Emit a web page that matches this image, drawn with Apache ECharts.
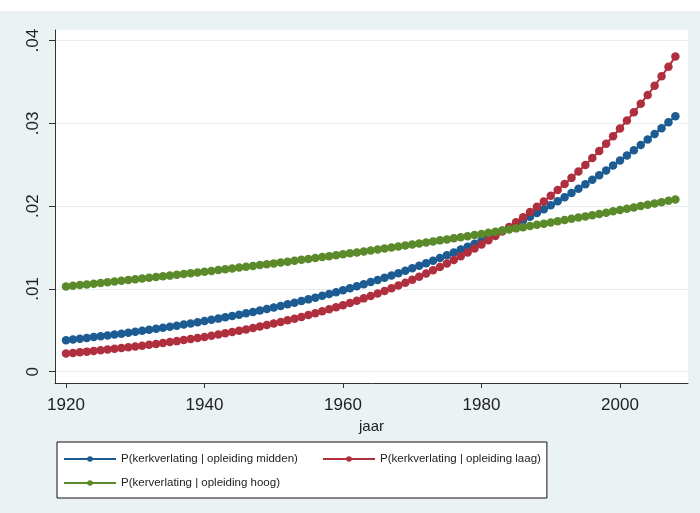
<!DOCTYPE html>
<html>
<head>
<meta charset="utf-8">
<script src="https://cdn.jsdelivr.net/npm/echarts@6/dist/echarts.min.js"></script>
<style>
  html, body { margin: 0; padding: 0; background: #ffffff; }
  #c { position: absolute; left: 0; top: 11px; width: 700px; height: 502px; background: #eaf2f3; }
</style>
</head>
<body>
<div id="c"></div>
<script>
const years = [1920,1921,1922,1923,1924,1925,1926,1927,1928,1929,1930,1931,1932,1933,1934,1935,1936,1937,1938,1939,1940,1941,1942,1943,1944,1945,1946,1947,1948,1949,1950,1951,1952,1953,1954,1955,1956,1957,1958,1959,1960,1961,1962,1963,1964,1965,1966,1967,1968,1969,1970,1971,1972,1973,1974,1975,1976,1977,1978,1979,1980,1981,1982,1983,1984,1985,1986,1987,1988,1989,1990,1991,1992,1993,1994,1995,1996,1997,1998,1999,2000,2001,2002,2003,2004,2005,2006,2007,2008];

const midden = [0.003800,0.003892,0.003985,0.004081,0.004180,0.004280,0.004383,0.004489,0.004597,0.004708,0.004821,0.004937,0.005056,0.005178,0.005302,0.005430,0.005561,0.005695,0.005832,0.005972,0.006116,0.006264,0.006414,0.006569,0.006727,0.006889,0.007055,0.007225,0.007399,0.007577,0.007760,0.007947,0.008138,0.008334,0.008535,0.008740,0.008951,0.009166,0.009387,0.009613,0.009845,0.010082,0.010325,0.010574,0.010828,0.011089,0.011356,0.011630,0.011910,0.012197,0.012491,0.012792,0.013100,0.013416,0.013739,0.014070,0.014409,0.014756,0.015111,0.015475,0.015848,0.016230,0.016621,0.017021,0.017431,0.017851,0.018281,0.018721,0.019172,0.019634,0.020107,0.020591,0.021087,0.021595,0.022115,0.022648,0.023194,0.023752,0.024324,0.024910,0.025510,0.026125,0.026754,0.027399,0.028059,0.028734,0.029427,0.030135,0.030861];

const laag = [0.002200,0.002272,0.002347,0.002425,0.002505,0.002587,0.002672,0.002760,0.002851,0.002945,0.003042,0.003142,0.003246,0.003353,0.003463,0.003577,0.003695,0.003817,0.003942,0.004072,0.004206,0.004345,0.004488,0.004636,0.004788,0.004946,0.005109,0.005277,0.005451,0.005630,0.005816,0.006007,0.006205,0.006409,0.006620,0.006838,0.007063,0.007296,0.007536,0.007784,0.008041,0.008305,0.008579,0.008861,0.009153,0.009455,0.009766,0.010088,0.010420,0.010763,0.011117,0.011483,0.011861,0.012252,0.012655,0.013072,0.013503,0.013947,0.014407,0.014881,0.015371,0.015877,0.016400,0.016940,0.017498,0.018075,0.018670,0.019285,0.019920,0.020576,0.021253,0.021953,0.022676,0.023423,0.024194,0.024991,0.025814,0.026664,0.027542,0.028449,0.029386,0.030353,0.031353,0.032385,0.033452,0.034553,0.035691,0.036866,0.038080];

const hoog = [0.01030,0.01038,0.01047,0.01055,0.01063,0.01072,0.01081,0.01089,0.01098,0.01107,0.01116,0.01125,0.01134,0.01143,0.01152,0.01161,0.01171,0.01180,0.01190,0.01199,0.01209,0.01218,0.01228,0.01238,0.01248,0.01258,0.01268,0.01278,0.01289,0.01299,0.01309,0.01320,0.01330,0.01341,0.01352,0.01363,0.01374,0.01385,0.01396,0.01407,0.01418,0.01430,0.01441,0.01453,0.01465,0.01476,0.01488,0.01500,0.01512,0.01524,0.01537,0.01549,0.01561,0.01574,0.01587,0.01599,0.01612,0.01625,0.01638,0.01651,0.01665,0.01678,0.01691,0.01705,0.01719,0.01732,0.01746,0.01760,0.01775,0.01789,0.01803,0.01818,0.01832,0.01847,0.01862,0.01877,0.01892,0.01907,0.01922,0.01938,0.01953,0.01969,0.01985,0.02001,0.02017,0.02033,0.02049,0.02066,0.02082];

const seriesNames = ['P(kerkverlating | opleiding midden)', 'P(kerkverlating | opleiding laag)', 'P(kerverlating | opleiding hoog)'];
const seriesColors = ['#1c5c92', '#b02f3e', '#5b8a2b'];
const xTicks = [1920, 1940, 1960, 1980, 2000];
const yTicks = [0, 0.01, 0.02, 0.03, 0.04];
const xTitle = 'jaar';

const pairs = arr => years.map((y, i) => [y, arr[i]]);
const allData = [midden, laag, hoog];

const chart = echarts.init(document.getElementById('c'), null, { renderer: 'canvas' });
chart.setOption({
  animation: false,
  backgroundColor: 'transparent',
  textStyle: { fontFamily: '"Liberation Sans", Arial, sans-serif' },
  grid: {
    left: 55, top: 19, width: 633, height: 353,
    show: true, backgroundColor: '#ffffff', borderWidth: 0
  },
  xAxis: {
    type: 'value', min: 1918.41, max: 2009.82,
    name: xTitle, nameLocation: 'middle', nameGap: 33,
    nameTextStyle: { fontSize: 15, color: '#222' },
    axisLine: { show: true, onZero: false, lineStyle: { color: '#333', width: 1 } },
    axisTick: { show: true, length: 5, customValues: xTicks, lineStyle: { color: '#333' } },
    axisLabel: { customValues: xTicks, fontSize: 17, color: '#222', margin: 14, formatter: v => String(Math.round(v)) },
    splitLine: { show: false }
  },
  yAxis: {
    type: 'value', min: -0.001366, max: 0.041293,
    axisLine: { show: true, onZero: false, lineStyle: { color: '#333', width: 1 } },
    axisTick: { show: true, length: 6, customValues: yTicks, lineStyle: { color: '#333' } },
    axisLabel: {
      customValues: yTicks, rotate: 90, fontSize: 17, color: '#222', margin: 13,
      formatter: v => (Math.abs(v) < 1e-9 ? '0' : v.toFixed(2).replace(/^0/, ''))
    },
    splitLine: { show: true, lineStyle: { color: '#e8eeee', width: 1 } }
  },
  legend: {
    left: 57, top: 431, width: 500,
    orient: 'horizontal',
    backgroundColor: '#ffffff', borderColor: '#111', borderWidth: 1, borderRadius: 0,
    padding: [10, 6, 8, 6],
    itemGap: 10, itemWidth: 52, itemHeight: 7,
    textStyle: { fontSize: 11.5, color: '#222', lineHeight: 14 },
    data: [
      { name: seriesNames[0], textStyle: { width: 191 } },
      { name: seriesNames[1] },
      { name: seriesNames[2] }
    ]
  },
  series: allData.map((arr, i) => ({
    name: seriesNames[i],
    type: 'line',
    data: pairs(arr),
    symbol: 'circle',
    symbolSize: 8.5,
    showAllSymbol: true,
    clip: false,
    color: seriesColors[i],
    lineStyle: { color: seriesColors[i], width: 2 },
    itemStyle: { color: seriesColors[i] },
    z: 2 + i
  }))
});
</script>
</body>
</html>
